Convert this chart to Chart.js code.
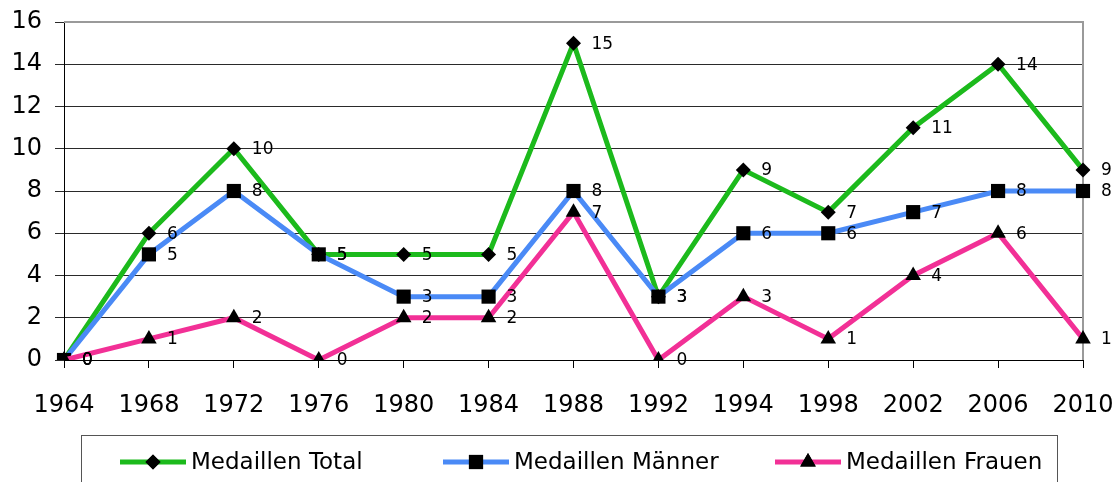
<html>
<head>
<script src="https://cdn.jsdelivr.net/npm/chart.js"></script>
<style type="text/css">
  body{
    margin:0;
    background:#fff;
  }
  #box{
    width:1120px;
    height:482px;
  }
</style>
</head>
<body>
<div id="box"><canvas id="medalChart" width="1120" height="482"></canvas></div>

<script>
  const years = ['1964','1968','1972','1976','1980','1984','1988','1992','1994','1998','2002','2006','2010'];
  const total = [0, 6, 10, 5, 5, 5, 15, 3, 9, 7, 11, 14, 9];
  const maenner = [0, 5, 8, 5, 3, 3, 8, 3, 6, 6, 7, 8, 8];
  const frauen = [0, 1, 2, 0, 2, 2, 7, 0, 3, 1, 4, 6, 1];
  const yTicks = [0, 2, 4, 6, 8, 10, 12, 14, 16];

  Chart.defaults.font.family = 'DejaVu Sans';
  Chart.defaults.color = '#000';

  // point labels right of each marker
  const valueLabels = {
    id: 'valueLabels',
    afterDatasetsDraw(chart) {
      const ctx = chart.ctx;
      ctx.save();
      ctx.font = '17px DejaVu Sans';
      ctx.fillStyle = '#000';
      ctx.textAlign = 'left';
      ctx.textBaseline = 'middle';
      chart.data.datasets.forEach((ds, i) => {
        chart.getDatasetMeta(i).data.forEach((pt, j) => {
          ctx.fillText(String(ds.data[j]), pt.x + 18, pt.y + 1);
        });
      });
      ctx.restore();
    }
  };

  // grey frame top / right like the spreadsheet chart
  const plotFrame = {
    id: 'plotFrame',
    beforeDatasetsDraw(chart) {
      const a = chart.chartArea;
      const ctx = chart.ctx;
      ctx.save();
      ctx.strokeStyle = '#9a9a9a';
      ctx.lineWidth = 2;
      ctx.beginPath();
      ctx.moveTo(a.left, a.top);
      ctx.lineTo(a.right, a.top);
      ctx.lineTo(a.right, a.bottom);
      ctx.stroke();
      ctx.restore();
    }
  };

  // legend box with line + marker samples
  const boxLegend = {
    id: 'boxLegend',
    afterDraw(chart) {
      const ctx = chart.ctx;
      const starts = [120, 443, 775];
      ctx.save();
      ctx.strokeStyle = '#555';
      ctx.lineWidth = 1;
      ctx.strokeRect(81.5, 435.5, 976, 60);
      ctx.font = '23px DejaVu Sans';
      ctx.textBaseline = 'middle';
      ctx.textAlign = 'left';
      chart.data.datasets.forEach((ds, i) => {
        const x0 = starts[i], y = 462;
        ctx.strokeStyle = ds.borderColor;
        ctx.lineWidth = 5;
        ctx.beginPath();
        ctx.moveTo(x0, y);
        ctx.lineTo(x0 + 66, y);
        ctx.stroke();
        Chart.helpers.drawPoint(ctx, {pointStyle: ds.pointStyle, radius: ds.pointRadius, rotation: 0, borderWidth: 0}, x0 + 33, y);
        ctx.fillStyle = '#000';
        ctx.fill();
        ctx.fillText(ds.label, x0 + 71, y + 1);
      });
      ctx.restore();
    }
  };

  new Chart(document.getElementById('medalChart'), {
    type: 'line',
    data: {
      labels: years,
      datasets: [{
        label: 'Medaillen Total',
        data: total,
        borderColor: 'rgb(28, 186, 28)',
        borderWidth: 5,
        pointStyle: 'rectRot',
        pointRadius: 7.5,
        pointBackgroundColor: '#000',
        pointBorderWidth: 0,
        order: 3
      }, {
        label: 'Medaillen Männer',
        data: maenner,
        borderColor: 'rgb(74, 138, 246)',
        borderWidth: 5,
        pointStyle: 'rect',
        pointRadius: 10,
        pointBackgroundColor: '#000',
        pointBorderWidth: 0,
        order: 2
      }, {
        label: 'Medaillen Frauen',
        data: frauen,
        borderColor: 'rgb(242, 48, 150)',
        borderWidth: 5,
        pointStyle: 'triangle',
        pointRadius: 9,
        pointBackgroundColor: '#000',
        pointBorderWidth: 0,
        order: 1
      }]
    },
    options: {
      responsive: false,
      animation: false,
      layout: {
        padding: {top: 22, right: 37, bottom: 0, left: 0}
      },
      elements: {
        line: {tension: 0}
      },
      plugins: {
        legend: {display: false},
        tooltip: {enabled: false}
      },
      scales: {
        x: {
          offset: false,
          grid: {
            drawOnChartArea: false,
            tickLength: 8,
            color: '#000'
          },
          border: {color: '#000', width: 1},
          ticks: {
            font: {size: 24},
            padding: 23,
            maxRotation: 0,
            autoSkip: false
          },
          afterFit(scale) {
            scale.height = 122;
            scale.paddingLeft = 0;
            scale.paddingRight = 0;
          }
        },
        y: {
          min: 0,
          max: 16,
          afterBuildTicks(scale) {
            scale.ticks = yTicks.map(v => ({value: v}));
          },
          grid: {
            color: '#2a2a2a',
            tickLength: 9
          },
          border: {color: '#000', width: 1},
          ticks: {
            font: {size: 24},
            padding: 13
          },
          afterFit(scale) {
            scale.width = 64;
            scale.paddingTop = 0;
            scale.paddingBottom = 0;
          }
        }
      }
    },
    plugins: [plotFrame, valueLabels, boxLegend]
  });
</script>
</body>
</html>
